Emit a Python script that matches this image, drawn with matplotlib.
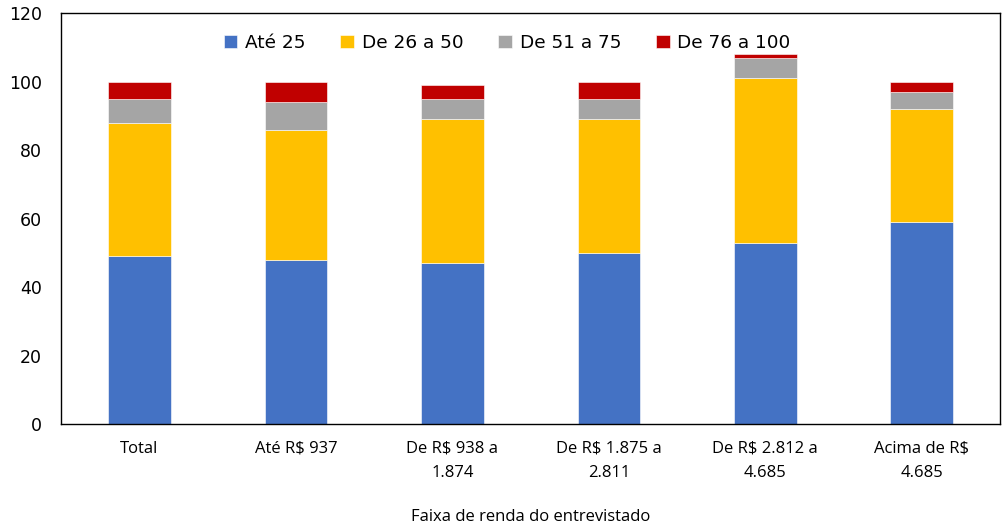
import matplotlib.pyplot as plt
import numpy as np

categorias = ['Total', 'Até R$ 937', 'De R$ 938 a\n1.874', 'De R$ 1.875 a\n2.811',
              'De R$ 2.812 a\n4.685', 'Acima de R$\n4.685']
ate_25 = [49, 48, 47, 50, 53, 59]
de_26_50 = [39, 38, 42, 39, 48, 33]
de_51_75 = [7, 8, 6, 6, 6, 5]
de_76_100 = [5, 6, 4, 5, 1, 3]

series = [('Até 25', ate_25, '#4472C4'),
          ('De 26 a 50', de_26_50, '#FFC000'),
          ('De 51 a 75', de_51_75, '#A5A5A5'),
          ('De 76 a 100', de_76_100, '#C00000')]

fig = plt.figure(figsize=(10.05, 5.27), dpi=100)
ax = fig.add_axes([0.061, 0.195, 0.934, 0.78])

x = np.arange(len(categorias))
base = np.zeros(len(categorias))
for nome, vals, cor in series:
    ax.bar(x, vals, 0.4, bottom=base, color=cor, label=nome, edgecolor='white', linewidth=0.4)
    base += np.array(vals)

ax.set_xlim(-0.5, 5.5)
ax.set_ylim(0, 120)
ax.set_yticks(range(0, 121, 20))
ax.tick_params(axis='y', length=0, pad=14, labelsize=12.5)
ax.tick_params(axis='x', length=0, pad=12)
ax.set_xticks(x)
ax.set_xticklabels(categorias, fontsize=12, family='Open Sans', linespacing=1.7)
for s in ax.spines.values():
    s.set_color('black')
    s.set_linewidth(1)

ax.set_xlabel('Faixa de renda do entrevistado', fontsize=12, family='Open Sans', labelpad=20)
ax.legend(loc='upper center', bbox_to_anchor=(0.475, 0.99), ncol=4, frameon=False,
          fontsize=13.3, handlelength=0.75, handleheight=0.75, columnspacing=1.9, handletextpad=0.4)

plt.savefig('out.png', dpi=100)
